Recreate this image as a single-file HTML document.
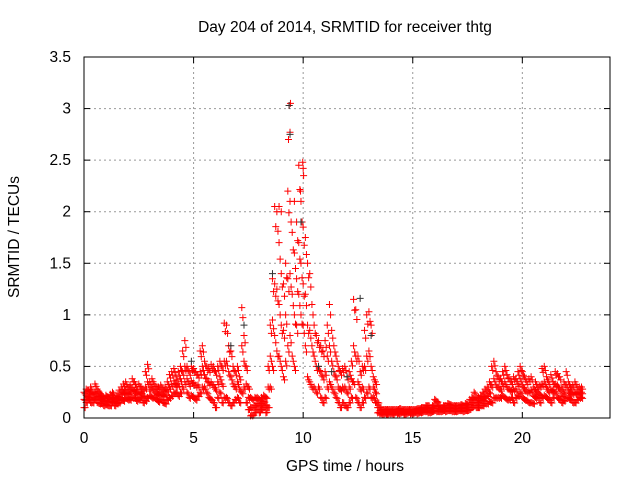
<!DOCTYPE html>
<html><head><meta charset="utf-8"><style>
body{margin:0;background:#fff;font-family:"Liberation Sans",sans-serif}
</style></head><body>
<svg id="chart" width="640" height="480" xmlns="http://www.w3.org/2000/svg" font-family="Liberation Sans, sans-serif" font-size="15.5">
<rect width="640" height="480" fill="#fff"/>
<text x="345" y="32" text-anchor="middle">Day 204 of 2014, SRMTID for receiver thtg</text>
<text x="345" y="471" text-anchor="middle">GPS time / hours</text>
<text transform="translate(19,237) rotate(-90)" text-anchor="middle">SRMTID / TECUs</text>
<g id="grid"></g><g id="ticks"></g><g id="marks"></g>
<rect x="84" y="57" width="526" height="361" fill="none" stroke="#000" stroke-width="1"/>
</svg>
<script>
const xTicks=[0,5,10,15,20];
const yTicks=[0,0.5,1,1.5,2,2.5,3,3.5];
const yTickLabels=["0","0.5","1","1.5","2","2.5","3","3.5"];
const timeStep=0.1;
const hiVals=[0.25,0.28,0.27,0.3,0.25,0.33,0.28,0.25,0.22,0.2,
0.22,0.2,0.23,0.25,0.2,0.22,0.27,0.3,0.33,0.35,
0.3,0.32,0.38,0.35,0.3,0.33,0.3,0.28,0.45,0.52,
0.35,0.38,0.33,0.3,0.3,0.32,0.28,0.3,0.35,0.42,
0.45,0.48,0.4,0.45,0.5,0.65,0.75,0.5,0.45,0.5,
0.48,0.45,0.42,0.65,0.7,0.55,0.5,0.48,0.52,0.5,
0.45,0.5,0.55,0.5,0.92,0.9,0.7,0.65,0.5,0.45,
0.5,0.4,1.07,0.8,0.5,0.3,0.2,0.18,0.2,0.2,
0.18,0.2,0.22,0.2,0.5,0.9,1.35,2.05,2.0,1.7,
1.4,1.3,1.5,2.2,2.1,1.8,1.6,1.9,2.45,2.1,
1.85,1.75,1.5,1.4,1.1,0.9,0.8,0.75,0.7,0.65,
0.75,0.9,1.1,0.85,0.7,0.6,0.5,0.45,0.48,0.5,
0.4,0.45,0.55,1.15,1.05,0.6,0.45,0.5,0.85,1.0,
1.03,0.9,0.4,0.35,0.15,0.1,0.08,0.08,0.08,0.08,
0.08,0.08,0.08,0.08,0.09,0.08,0.08,0.08,0.08,0.08,
0.08,0.08,0.09,0.09,0.1,0.1,0.12,0.12,0.1,0.12,
0.18,0.16,0.12,0.1,0.12,0.12,0.14,0.13,0.12,0.12,
0.12,0.12,0.13,0.12,0.14,0.13,0.18,0.2,0.25,0.2,
0.2,0.22,0.25,0.28,0.3,0.35,0.5,0.55,0.45,0.4,
0.38,0.45,0.5,0.42,0.38,0.35,0.4,0.38,0.45,0.5,
0.45,0.4,0.35,0.38,0.4,0.3,0.35,0.3,0.32,0.48,
0.5,0.4,0.35,0.42,0.35,0.45,0.43,0.4,0.3,0.35,
0.45,0.35,0.3,0.32,0.35,0.3,0.3,0.3];
const midVals=[0.18,0.22,0.2,0.24,0.2,0.25,0.22,0.2,0.18,0.16,
0.17,0.16,0.18,0.2,0.16,0.18,0.2,0.24,0.25,0.27,
0.24,0.25,0.28,0.27,0.24,0.25,0.25,0.22,0.3,0.35,
0.28,0.3,0.26,0.24,0.23,0.25,0.22,0.23,0.27,0.3,
0.33,0.36,0.32,0.33,0.38,0.45,0.5,0.38,0.33,0.36,
0.34,0.32,0.32,0.45,0.5,0.42,0.38,0.34,0.35,0.32,
0.28,0.35,0.4,0.33,0.55,0.55,0.45,0.4,0.33,0.3,
0.35,0.28,0.7,0.55,0.33,0.2,0.1,0.1,0.12,0.14,
0.12,0.14,0.16,0.12,0.3,0.6,0.95,1.3,1.25,1.1,
0.9,0.85,1.0,1.35,1.4,1.2,1.0,1.35,1.7,1.5,
1.3,1.2,0.9,0.85,0.7,0.6,0.5,0.5,0.45,0.4,
0.45,0.6,0.7,0.55,0.45,0.4,0.3,0.28,0.3,0.3,
0.25,0.3,0.38,0.7,0.6,0.35,0.28,0.3,0.5,0.6,
0.65,0.5,0.3,0.25,0.1,0.07,0.05,0.06,0.05,0.06,
0.06,0.05,0.06,0.05,0.06,0.06,0.05,0.06,0.06,0.05,
0.06,0.06,0.07,0.06,0.07,0.08,0.09,0.09,0.07,0.09,
0.12,0.11,0.09,0.08,0.09,0.09,0.1,0.1,0.09,0.09,
0.09,0.09,0.1,0.09,0.1,0.1,0.13,0.15,0.18,0.15,
0.15,0.17,0.18,0.2,0.22,0.25,0.32,0.38,0.32,0.3,
0.28,0.33,0.35,0.3,0.28,0.27,0.28,0.28,0.33,0.38,
0.32,0.28,0.26,0.26,0.27,0.22,0.27,0.25,0.23,0.33,
0.35,0.3,0.26,0.28,0.27,0.33,0.32,0.28,0.22,0.25,
0.32,0.27,0.24,0.24,0.25,0.24,0.25,0.25];
const loVals=[0.1,0.15,0.18,0.15,0.15,0.18,0.15,0.14,0.14,0.12,
0.13,0.12,0.12,0.15,0.12,0.14,0.15,0.18,0.17,0.2,
0.18,0.18,0.2,0.2,0.17,0.18,0.2,0.15,0.17,0.2,
0.22,0.2,0.2,0.18,0.16,0.18,0.15,0.14,0.18,0.2,
0.22,0.25,0.25,0.22,0.25,0.3,0.35,0.25,0.2,0.22,
0.2,0.18,0.22,0.25,0.3,0.3,0.25,0.2,0.18,0.15,
0.1,0.2,0.25,0.15,0.2,0.2,0.15,0.12,0.15,0.18,
0.2,0.15,0.25,0.3,0.15,0.08,0.02,0.02,0.05,0.08,
0.05,0.08,0.1,0.05,0.1,0.3,0.5,0.8,0.65,0.6,
0.5,0.4,0.55,0.7,0.8,0.6,0.5,0.9,1.2,1.0,
0.9,0.7,0.4,0.35,0.3,0.3,0.25,0.3,0.2,0.15,
0.2,0.3,0.35,0.3,0.25,0.2,0.15,0.1,0.15,0.12,
0.1,0.15,0.2,0.35,0.2,0.15,0.1,0.15,0.2,0.25,
0.3,0.2,0.2,0.15,0.05,0.04,0.03,0.04,0.03,0.04,
0.04,0.03,0.05,0.04,0.04,0.05,0.03,0.04,0.05,0.04,
0.04,0.05,0.04,0.05,0.05,0.06,0.06,0.05,0.05,0.06,
0.07,0.06,0.06,0.06,0.07,0.06,0.07,0.07,0.06,0.06,
0.06,0.07,0.07,0.06,0.07,0.07,0.08,0.1,0.12,0.1,
0.1,0.12,0.12,0.14,0.14,0.16,0.15,0.2,0.2,0.2,
0.2,0.22,0.2,0.18,0.18,0.2,0.15,0.2,0.22,0.25,
0.2,0.18,0.17,0.15,0.15,0.14,0.2,0.2,0.15,0.2,
0.22,0.2,0.18,0.15,0.2,0.25,0.2,0.18,0.15,0.17,
0.2,0.2,0.18,0.15,0.15,0.18,0.2,0.2];
const redOutT=[9.33,9.36,9.4,9.42,9.98,10.0,10.02,9.88,9.6,8.9,9.0];
const redOutV=[2.7,3.03,2.77,3.05,2.48,2.42,2.35,2.2,2.1,2.05,2.0];
const blackT=[9.36,9.4,8.6,12.6,10.7,6.7,7.3,4.9,11.3,9.9,13.1,12.0];
const blackV=[3.03,2.75,1.4,1.16,0.5,0.7,0.9,0.55,0.45,1.9,0.8,0.4];

const X=t=>84+t*(526/24);
const Y=v=>418-v*(361/3.5);
const NS='http://www.w3.org/2000/svg';
const grid=document.getElementById('grid'),ticks=document.getElementById('ticks'),marks=document.getElementById('marks');
function mk(tag,attrs,parent){const e=document.createElementNS(NS,tag);for(const k in attrs)e.setAttribute(k,attrs[k]);parent.appendChild(e);return e;}
xTicks.forEach(t=>{
  const x=X(t);
  if(t>0){const g=mk('line',{x1:x,x2:x,y1:57,y2:418,stroke:'#999','stroke-dasharray':'2,3'},grid);
  
  }
  mk('line',{x1:x,x2:x,y1:418,y2:412,stroke:'#000'},ticks);
  mk('line',{x1:x,x2:x,y1:57,y2:63,stroke:'#000'},ticks);
  const l=mk('text',{x:x,y:443,'text-anchor':'middle'},ticks);l.textContent=String(t);
  
  
});
yTicks.forEach((v,i)=>{
  const y=Y(v);
  if(v>0&&v<3.5){const g=mk('line',{x1:84,x2:610,y1:y,y2:y,stroke:'#999','stroke-dasharray':'2,3'},grid);
  
  }
  mk('line',{x1:84,x2:90,y1:y,y2:y,stroke:'#000'},ticks);
  mk('line',{x1:604,x2:610,y1:y,y2:y,stroke:'#000'},ticks);
  const l=mk('text',{x:71,y:y+5,'text-anchor':'end'},ticks);l.textContent=yTickLabels[i];
  
  
});
function plus(t,v,color,name){
  const x=X(t),y=Y(v);
  const p=mk('path',{d:`M${x-3.5},${y}h7M${x},${y-3.5}v7`,stroke:color,'stroke-width':1,fill:'none'},marks);
  
  
}
[hiVals,midVals,loVals].forEach(arr=>arr.forEach((v,i)=>{
  plus(i*timeStep,v,'#f00','red-point');
  plus(i*timeStep+0.05,v*0.9+0.01,'#f00','red-point');
}));
redOutT.forEach((t,i)=>plus(t,redOutV[i],'#f00','red-point'));
blackT.forEach((t,i)=>plus(t,blackV[i],'#333','black-point'));
</script>
</body></html>
